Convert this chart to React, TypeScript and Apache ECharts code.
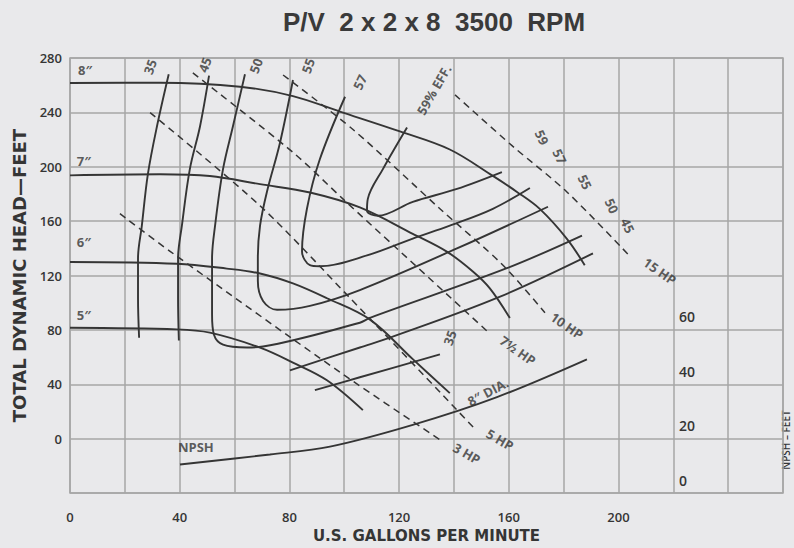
import { useEffect, useRef } from 'react';
import * as echarts from 'echarts';

// Head-capacity curves [gpm, head ft]
const head8 = [[0,261.6],[32.8,261.8],[62,258.9],[81.3,252],[98.4,240.6],[120.3,226],[138.5,212.7],[154.2,193.3],[163,181.5],[171.3,169],[181.2,147],[187.7,127.6]];
const head7 = [[0,193.7],[32.8,194.5],[51,193.2],[69.3,187.2],[87.5,181.1],[105.7,170.1],[125,150.7],[137.4,137.6],[146.9,123],[153.1,110.6],[160.4,88.8]];
const head6 = [[0,130],[39,128.7],[57.2,125.1],[69.3,121.5],[81.3,114.2],[93.7,103.3],[109.4,87.6],[125,58.5],[138.5,33.5]];
const head5 = [[0,81.6],[39,80.4],[51,78],[69.3,67],[81.3,56],[93.7,43],[106.8,21]];

// Efficiency contours
const eff35L = [[36,268],[31.7,229.6],[28.4,194.6],[26.2,156.7],[24.8,132.6],[24.8,103.5],[25.2,74.3]];
const eff35R = [[89.3,35.7],[105.7,45.2],[134.9,62]];
const eff45L = [[50.7,267],[47.4,229.6],[43.7,198.3],[40.8,156.7],[39.4,132.6],[39.4,103.5],[39.7,72.2]];
const eff45R = [[80.2,50.3],[105.7,67.1],[116.7,74.3],[155.7,103.5],[190.7,136.3]];
const eff50 = [[63.8,268],[59.4,229.6],[55.8,198.3],[52.9,156.7],[51.8,132.6],[51.8,91.1],[52.5,76.5],[55.8,69.2],[64.5,67.1],[70.4,67.8],[105.7,85.3],[109.4,88.9],[159.3,125.4],[186.7,149.4]];
const eff55 = [[81.3,263.8],[76.6,217.9],[71.8,181.5],[69.3,156.7],[68.5,132.6],[68.5,115.9],[70.4,101.3],[75.5,94.8],[87.5,97.7],[105.7,109.3],[141.1,139.9],[174.3,170.6]];
const eff57 = [[100.3,251.5],[91.1,205.5],[86.4,169.1],[84.6,137.8],[87.5,127.6],[91.1,126.8],[108.3,134.8],[125,147.2],[138.5,156.7],[154.2,169.1],[167.7,184.4]];
const eff59 = [[122.9,228.9],[114.1,198.3],[108.6,176.4],[108.3,167.6],[112.3,164],[125,174.2],[141.1,183.7],[157.5,196.1]];

// Horsepower lines
const hp15 = [[140.4,252.9],[161.5,215],[181.2,181.5],[204.2,134.1]];
const hp10 = [[77.7,267.5],[103.2,227.4],[134.9,169.1],[157.9,127.6],[173.2,92.6]];
const hp7 = [[44.8,269],[81.3,210.6],[99.5,176.4],[119.2,139.9],[153.1,77.3]];
const hp5 = [[29.2,239.8],[69.3,171.3],[102.1,103.5],[147.6,7.3]];
const hp3 = [[18.2,165.5],[36.5,137.8],[99.5,47.4],[134.9,-0.7]];

// NPSH curve [gpm, NPSH ft]
const npsh = [[40.1,10.5],[72.9,14.2],[94.8,17.1],[125,25.1],[155.7,35.3],[188.5,49.2]];

// Axis ticks
const xLabelValues = [0, 40, 80, 120, 160, 200];
const yLabelValues = [0, 40, 80, 120, 160, 200, 240, 280];
const npshLabelValues = [0, 20, 40, 60];

// Labels [text, gpm, head, angle]
const labelPoints: [string, number, number, number][] = [
  ['8″', 5.5, 271, 0],
  ['7″', 5.1, 204, 0],
  ['6″', 5.1, 145, 0],
  ['5″', 5.1, 91, 0],
  ['35', 29.2, 273.5, 70],
  ['45', 49.2, 275, 70],
  ['50', 67.8, 274.3, 70],
  ['55', 86.8, 274.3, 70],
  ['57', 105.7, 262.2, 65],
  ['59% EFF.', 132.7, 256.6, 60],
  ['59', 172.1, 221.6, -65],
  ['57', 178.6, 207.7, -65],
  ['55', 187.8, 188.8, -65],
  ['50', 197.6, 171.3, -65],
  ['45', 203.4, 156.7, -65],
  ['35', 138.5, 74.3, 70],
  ['15 HP', 215.1, 123.2, -35],
  ['10 HP', 181.2, 83.1, -35],
  ['7½ HP', 163.3, 64.9, -35],
  ['5 HP', 156.8, -0.7, -30],
  ['3 HP', 144.7, -10.9, -30],
  ['8″ DIA.', 152.4, 34.3, 28],
  ['NPSH', 45.9, -5.8, 0],
];

const INK = '#353535';
const GRID = '#a6a6a6';
const FONT = 'Open Sans';
const WIDE = 'DejaVu Sans';

export default function App() {
  const ref = useRef<HTMLDivElement>(null);
  useEffect(() => {
    const chart = echarts.init(ref.current!, undefined, { renderer: 'svg' });
    const solid = (data: number[][], yAxisIndex = 0) => ({
      type: 'line', data, yAxisIndex, smooth: 0.35, symbol: 'none',
      lineStyle: { color: INK, width: 1.9 }, silent: true,
    });
    const dashed = (data: number[][]) => ({
      type: 'line', data, smooth: 0.3, symbol: 'none',
      lineStyle: { color: INK, width: 1.5, type: [7, 5] }, silent: true,
    });
    chart.setOption({
      animation: false,
      backgroundColor: '#e9e9eb',
      title: {
        text: 'P/V  2 x 2 x 8  3500  RPM',
        left: 278, top: 4,
        textStyle: { fontFamily: 'Liberation Sans', fontWeight: 'bold', fontSize: 26, color: '#3a3a3a' },
      },
      grid: { left: 70, right: 11, top: 58, bottom: 51, show: true, borderColor: GRID, borderWidth: 1.5 },
      xAxis: {
        type: 'value', min: 0, max: 260, interval: 20,
        name: 'U.S. GALLONS PER MINUTE', nameLocation: 'middle', nameGap: 32,
        nameTextStyle: { fontFamily: WIDE, fontWeight: 'bold', fontSize: 15, color: INK },
        axisLine: { show: false }, axisTick: { show: false },
        axisLabel: {
          margin: 17, fontFamily: FONT, fontWeight: 600, fontSize: 13, color: INK,
          formatter: (v: number) => (xLabelValues.includes(v) ? String(v) : ''),
        },
        splitLine: { show: true, lineStyle: { color: GRID, width: 1.5 } },
      },
      yAxis: [
        {
          type: 'value', min: -40, max: 280, interval: 40,
          name: 'TOTAL DYNAMIC HEAD—FEET', nameLocation: 'middle', nameGap: 42,
          nameTextStyle: { fontFamily: WIDE, fontWeight: 'bold', fontSize: 18, color: INK },
          axisLine: { show: false }, axisTick: { show: false },
          axisLabel: {
            margin: 8, fontFamily: FONT, fontWeight: 600, fontSize: 13, color: INK,
            formatter: (v: number) => (yLabelValues.includes(v) ? String(v) : ''),
          },
          splitLine: { show: true, lineStyle: { color: GRID, width: 1.5 } },
        },
        {
          type: 'value', min: 0, max: 160, interval: 20, position: 'right', offset: -109,
          axisLine: { show: false }, axisTick: { show: false }, splitLine: { show: false },
          axisLabel: {
            margin: 5, fontFamily: FONT, fontWeight: 600, fontSize: 14, color: INK,
            lineHeight: 26,
            formatter: (v: number) => (npshLabelValues.includes(v) ? `${v}\n ` : ''),
          },
        },
      ],
      graphic: [
        {
          type: 'text', x: 786, y: 440, rotation: Math.PI / 2,
          style: { text: 'NPSH – FEET', fontFamily: FONT, fontWeight: 600, fontSize: 10, fill: INK, align: 'center', verticalAlign: 'middle' },
        },
      ],
      series: [
        solid(head8), solid(head7), solid(head6), solid(head5),
        solid(eff35L), solid(eff35R), solid(eff45L), solid(eff45R),
        solid(eff50), solid(eff55), solid(eff57), solid(eff59),
        dashed(hp15), dashed(hp10), dashed(hp7), dashed(hp5), dashed(hp3),
        solid(npsh, 1),
        {
          type: 'scatter', symbolSize: 1, itemStyle: { color: 'rgba(0,0,0,0)' }, silent: true,
          data: labelPoints.map(([t, x, y, r]) => ({ name: t, value: [x, y], label: { rotate: r } })),
          label: {
            show: true, position: 'inside', formatter: '{b}',
            fontFamily: FONT, fontWeight: 'bold', fontSize: 13, color: INK,
          },
        },
      ],
    });
    return () => chart.dispose();
  }, []);
  return <div ref={ref} style={{ position: 'absolute', left: 0, top: 0, width: 794, height: 548 }} />;
}
